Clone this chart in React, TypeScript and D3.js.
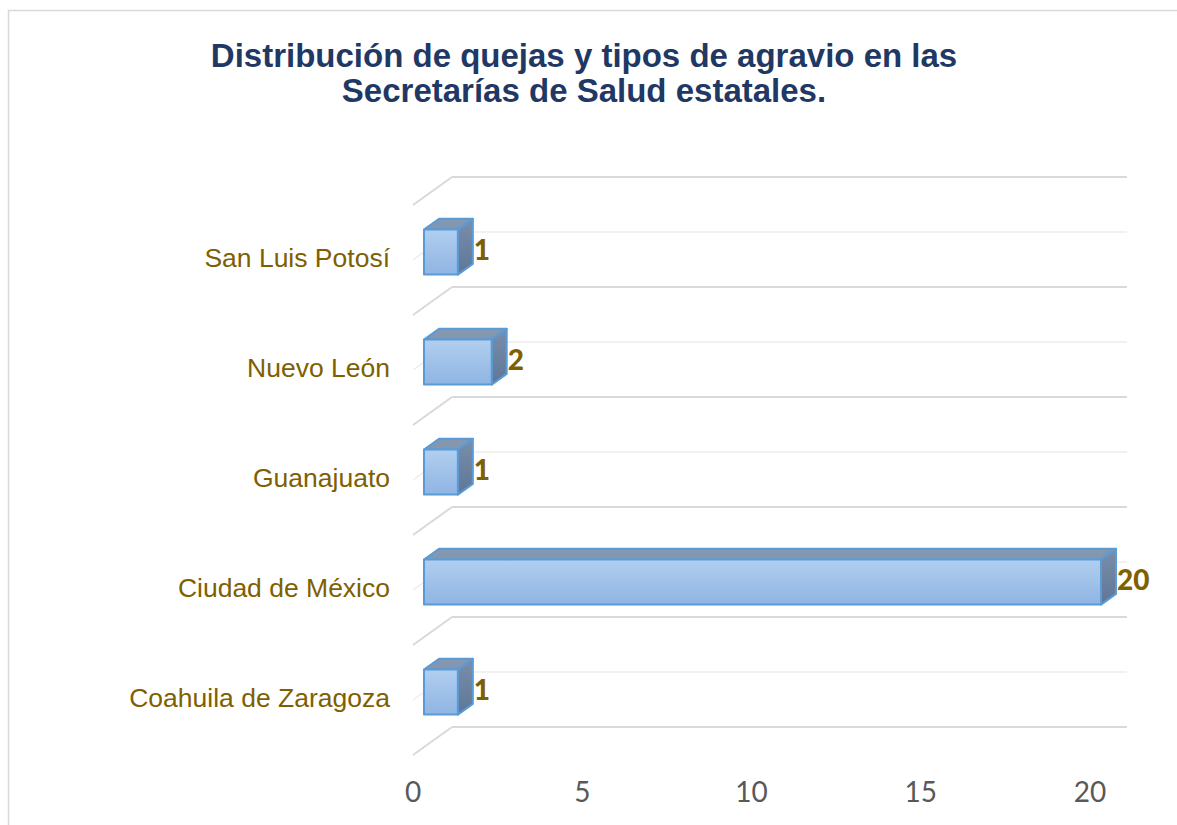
import * as d3 from 'd3';

const categories = ['San Luis Potosí', 'Nuevo León', 'Guanajuato', 'Ciudad de México', 'Coahuila de Zaragoza'];
const values = [1, 2, 1, 20, 1];
const xTicks = [0, 5, 10, 15, 20];
const titleLines = ['Distribución de quejas y tipos de agravio en las', 'Secretarías de Salud estatales.'];

const App = () => {
    const width = 1177;
    const height = 825;

    // perspective: back wall sits up-right of the front plane
    const depthX = 39;
    const depthY = -28;
    const barFront = 11 / 39;
    const barBack = 26 / 39;

    const xScale = d3.scaleLinear().domain([0, 20]).range([413, 1090]);
    const yBack = d3.scaleBand().domain(categories).range([177, 727]);
    const band = yBack.bandwidth();
    const barH = 45;

    const gridYs = d3.range(0, categories.length * 2 + 1).map(i => 177 + (band / 2) * i);

    const labelColor = '#7f6000';

    return (
        <svg width={width} height={height} style={{ position: 'absolute', left: 0, top: 0 }}>
            <defs>
                <linearGradient id="front" x1="0" y1="0" x2="0" y2="1">
                    <stop offset="0%" stopColor="#b1ceef" />
                    <stop offset="100%" stopColor="#8fb5e3" />
                </linearGradient>
                <linearGradient id="side" x1="0" y1="0" x2="0" y2="1">
                    <stop offset="0%" stopColor="#7a8eaa" />
                    <stop offset="100%" stopColor="#5f7697" />
                </linearGradient>
            </defs>
            <rect x={8.5} y={10.5} width={1300} height={1000} fill="#fff" stroke="#d9d9d9" strokeWidth={1.5} />

            {titleLines.map((t, i) => (
                <text key={t} x={584} y={67 + i * 35} textAnchor="middle" fill="#1f3864"
                    style={{ font: 'bold 33px "Liberation Sans", Arial, sans-serif' }}>{t}</text>
            ))}

            {/* floor / wall gridlines */}
            {gridYs.map((y, i) => {
                const edge = i % 2 === 0;
                const stroke = edge ? '#d9d9d9' : '#ececec';
                const sw = edge ? 2 : 1.5;
                const x0 = xScale(0);
                return (
                    <g key={i}>
                        <line x1={x0} y1={y - depthY} x2={x0 + depthX} y2={y} stroke={stroke} strokeWidth={sw} />
                        <line x1={x0 + depthX} y1={y} x2={xScale(20) + depthX - 2} y2={y} stroke={stroke} strokeWidth={sw} />
                    </g>
                );
            })}

            {/* 3d bars */}
            {categories.map((c, i) => {
                const cy = (yBack(c) ?? 0) + band / 2 - depthY * (1 - barFront);
                const fx0 = xScale(0) + depthX * barFront;
                const fx1 = xScale(values[i]) + depthX * barFront;
                const top = cy - barH / 2;
                const bot = cy + barH / 2;
                const dx = depthX * (barBack - barFront);
                const dy = depthY * (barBack - barFront);
                return (
                    <g key={c} stroke="#5b9bd5" strokeWidth={2} strokeLinejoin="round">
                        <path d={`M${fx0},${top}L${fx0 + dx},${top + dy}L${fx1 + dx},${top + dy}L${fx1},${top}Z`} fill="#8497b0" />
                        <path d={`M${fx1},${top}L${fx1 + dx},${top + dy}L${fx1 + dx},${bot + dy}L${fx1},${bot}Z`} fill="url(#side)" />
                        <rect x={fx0} y={top} width={fx1 - fx0} height={barH} fill="url(#front)" />
                        <text x={fx1 + dx + 1} y={cy + 1} dominantBaseline="middle" fill={labelColor} stroke="none"
                            style={{ font: '900 28px Lato, "Open Sans", sans-serif' }}>{values[i]}</text>
                    </g>
                );
            })}

            {/* category labels */}
            {categories.map(c => (
                <text key={c} x={390} y={(yBack(c) ?? 0) + band / 2 - depthY} dominantBaseline="middle" textAnchor="end"
                    fill={labelColor} style={{ font: '26.5px "Liberation Sans", Arial, sans-serif' }}>{c}</text>
            ))}

            {/* value axis labels */}
            {xTicks.map(t => (
                <text key={t} x={xScale(t)} y={795} dominantBaseline="middle" textAnchor="middle" fill="#595959"
                    style={{ font: '28px Lato, "Open Sans", sans-serif' }}>{t}</text>
            ))}
        </svg>
    );
};

export default App;
